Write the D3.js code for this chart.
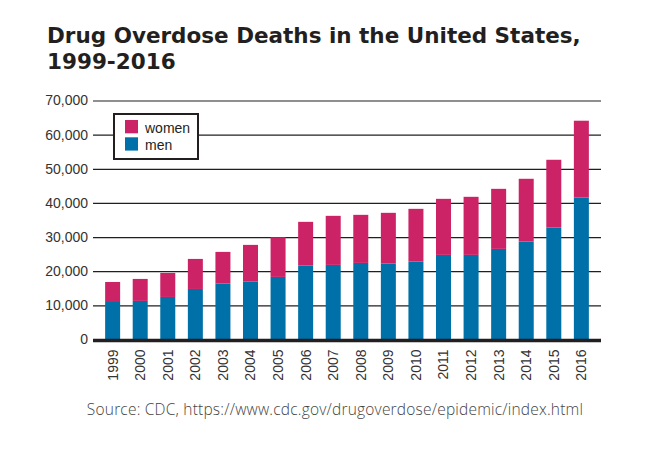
<!DOCTYPE html>
<html lang="en">

<head>
    <meta charset="utf-8">
    <script src='https://d3js.org/d3.v7.min.js'></script>
    <style>
        body { margin: 0; background: #fff; }
    </style>
</head>

<body>
</body>

<script>

    // data
    const years = ["1999", "2000", "2001", "2002", "2003", "2004", "2005", "2006", "2007",
                   "2008", "2009", "2010", "2011", "2012", "2013", "2014", "2015", "2016"];
    const men   = [11260, 11300, 12460, 14800, 16370, 16960, 18330, 21650, 21850,
                   22430, 22240, 22820, 24780, 24780, 26540, 28690, 32790, 41590];
    const women = [5590, 6440, 7040, 8800, 9290, 10750, 11630, 12810, 14370,
                   14080, 14860, 15450, 16420, 17010, 17590, 18380, 19850, 22490];
    const yTicks = [0, 10000, 20000, 30000, 40000, 50000, 60000, 70000];
    const titleLines = ["Drug Overdose Deaths in the United States,", "1999-2016"];

    const width = 658;
    const height = 456;
    const blue = "#0070a8";
    const pink = "#cc2366";

    // table for the stack layout
    const rows = years.map(function (y, i) {
        return { year: y, men: men[i], women: women[i] };
    });
    const series = d3.stack().keys(["men", "women"])(rows);

    const svg = d3.select("body")
                    .append("svg")
                    .attr("width", width)
                    .attr("height", height);

    const x = d3.scaleBand()
                    .domain(years)
                    .range([93, 601])
                    .paddingInner(0.456)
                    .paddingOuter(0.44);

    const y = d3.scaleLinear()
                    .domain([0, 70000])
                    .range([339.5, 100.5]);

    // title, one text per line
    svg.selectAll(".title")
        .data(titleLines)
        .enter()
        .append("text")
        .attr("class", "title")
        .attr("x", 47)
        .attr("y", function (d, i) { return 43 + i * 26.3; })
        .style("font-family", "DejaVu Sans")
        .style("font-weight", "bold")
        .style("font-size", "21.5px")
        .style("fill", "#231f20")
        .text(function (d) { return d; });

    // gridlines + y labels
    const yAxis = d3.axisLeft(y)
                    .tickValues(yTicks)
                    .tickSize(-508)
                    .tickPadding(5)
                    .tickFormat(d3.format(","));

    const gy = svg.append("g")
        .attr("transform", "translate(93,0)")
        .call(yAxis);
    gy.select(".domain").remove();
    gy.selectAll(".tick line")
        .attr("stroke", "#231f20")
        .attr("stroke-width", 1.2);
    gy.selectAll(".tick text")
        .style("font-family", "Liberation Sans")
        .style("font-size", "14px")
        .style("fill", "#333");

    // stacked bars
    svg.append("g")
        .selectAll("g")
        .data(series)
        .enter()
        .append("g")
        .attr("fill", function (d) { return d.key === "men" ? blue : pink; })
        .selectAll("rect")
        .data(function (d) { return d; })
        .enter()
        .append("rect")
        .attr("x", function (d) { return x(d.data.year); })
        .attr("y", function (d) { return y(d[1]); })
        .attr("height", function (d) { return y(d[0]) - y(d[1]); })
        .attr("width", x.bandwidth());

    // baseline
    svg.append("line")
        .attr("x1", 93)
        .attr("x2", 601)
        .attr("y1", y(0) + 1)
        .attr("y2", y(0) + 1)
        .attr("stroke", "#231f20")
        .attr("stroke-width", 3.5);

    // x labels
    const xAxis = d3.axisBottom(x).tickSize(0).tickPadding(0);
    const gx = svg.append("g")
        .attr("transform", "translate(0," + (y(0) + 10) + ")")
        .call(xAxis);
    gx.select(".domain").remove();
    gx.selectAll(".tick text")
        .attr("transform", "rotate(-90)")
        .attr("x", 0)
        .attr("y", 0)
        .attr("dy", "0.35em")
        .style("text-anchor", "end")
        .style("font-family", "Liberation Sans")
        .style("font-size", "14px")
        .style("fill", "#333");

    // legend
    const legend = svg.append("g");
    legend.append("rect")
        .attr("x", 114)
        .attr("y", 114)
        .attr("width", 84)
        .attr("height", 45)
        .attr("fill", "#fff")
        .attr("stroke", "#231f20")
        .attr("stroke-width", 2);
    const legendItems = [["women", pink], ["men", blue]];
    legendItems.forEach(function (d, i) {
        legend.append("rect")
            .attr("x", 125)
            .attr("y", 120 + i * 17.3)
            .attr("width", 13)
            .attr("height", 13.3)
            .attr("fill", d[1]);
        legend.append("text")
            .attr("x", 145)
            .attr("y", 132.5 + i * 17)
            .style("font-family", "Liberation Sans")
            .style("font-size", "14px")
            .style("fill", "#231f20")
            .text(d[0]);
    });

    // source
    svg.append("text")
        .attr("x", 335)
        .attr("y", 415)
        .style("text-anchor", "middle")
        .style("font-family", "Open Sans")
        .style("font-weight", 300)
        .style("font-size", "15.5px")
        .style("letter-spacing", "0.2px")
        .style("fill", "#444")
        .text("Source: CDC, https://www.cdc.gov/drugoverdose/epidemic/index.html");

</script>

</html>
